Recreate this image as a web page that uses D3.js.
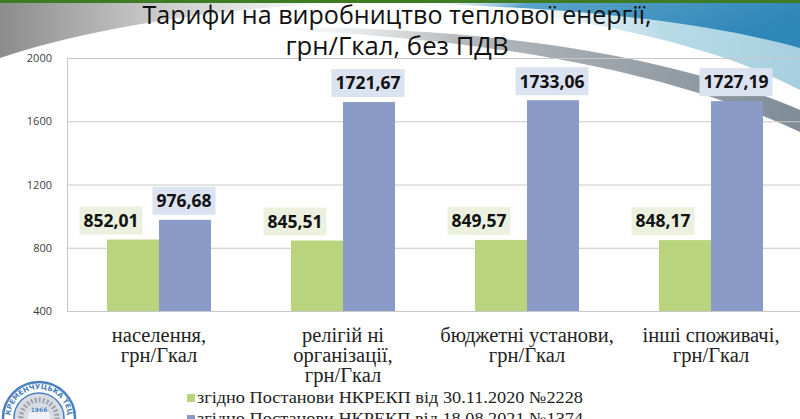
<!DOCTYPE html>
<html>
<head>
<meta charset="utf-8">
<script src="https://cdn.jsdelivr.net/npm/d3@7"></script>
<style>
  body { margin: 0; background: #fff; overflow: hidden; }
  svg { display: block; }
</style>
</head>
<body>
<script>
var w = 800;
var h = 419;

// chart data
var categories = [
  ["населення,", "грн/Гкал"],
  ["релігій ні", "організації,", "грн/Гкал"],
  ["бюджетні установи,", "грн/Гкал"],
  ["інші споживачі,", "грн/Гкал"]
];
var tariff2020 = [852.01, 845.51, 849.57, 848.17];
var tariff2021 = [976.68, 1721.67, 1733.06, 1727.19];
var seriesNames = [
  "згідно Постанови НКРЕКП від 30.11.2020 №2228",
  "згідно Постанови НКРЕКП від 18.08.2021 №1374"
];
var yTicks = [400, 800, 1200, 1600, 2000];
var titleLines = ["Тарифи на виробництво теплової енергії,", "грн/Гкал, без ПДВ"];

var colors = ["#b9d47c", "#8a9bc8"];
var labelFills = ["#ebf1de", "#dbe3f1"];

var svg = d3.select("body").append("svg")
  .attr("width", w)
  .attr("height", h);

// ---- slide decoration ----
var defs = svg.append("defs");

var gLeft = defs.append("linearGradient").attr("id", "gLeft")
  .attr("x1", 0).attr("y1", 0).attr("x2", 1).attr("y2", 0);
gLeft.append("stop").attr("offset", 0).attr("stop-color", "#8c8c8c");
gLeft.append("stop").attr("offset", 0.5).attr("stop-color", "#cfcfcf");
gLeft.append("stop").attr("offset", 1).attr("stop-color", "#ffffff");

var gBlue = defs.append("linearGradient").attr("id", "gBlue")
  .attr("x1", 0).attr("y1", 0).attr("x2", 1).attr("y2", 0.3);
gBlue.append("stop").attr("offset", 0).attr("stop-color", "#ffffff").attr("stop-opacity", 0);
gBlue.append("stop").attr("offset", 0.3).attr("stop-color", "#5aa3c8");
gBlue.append("stop").attr("offset", 1).attr("stop-color", "#2f86b8");

var gLight = defs.append("linearGradient").attr("id", "gLight")
  .attr("x1", 0).attr("y1", 0).attr("x2", 1).attr("y2", 0);
gLight.append("stop").attr("offset", 0).attr("stop-color", "#ffffff").attr("stop-opacity", 0);
gLight.append("stop").attr("offset", 0.6).attr("stop-color", "#b9dbe8");
gLight.append("stop").attr("offset", 1).attr("stop-color", "#a7cfe0");

var gGrey = defs.append("linearGradient").attr("id", "gGrey")
  .attr("x1", 0).attr("y1", 0).attr("x2", 1).attr("y2", 0);
gGrey.append("stop").attr("offset", 0).attr("stop-color", "#ffffff").attr("stop-opacity", 0);
gGrey.append("stop").attr("offset", 0.4).attr("stop-color", "#b5b9bd");
gGrey.append("stop").attr("offset", 1).attr("stop-color", "#7f8c96");

var deco = svg.append("g").attr("id", "deco");
deco.append("path")
  .attr("d", "M0,3 L340,3 C220,8 90,28 0,58 Z")
  .attr("fill", "url(#gLeft)");
deco.append("path")
  .attr("d", "M450,3 L800,3 L800,90 C720,48 610,22 450,3 Z")
  .attr("fill", "url(#gLight)");
deco.append("path")
  .attr("d", "M400,3 L800,3 L800,48 C700,20 560,7 400,3 Z")
  .attr("fill", "url(#gBlue)");
deco.append("path")
  .attr("d", "M230,28 C450,22 660,50 800,110 L800,132 C660,66 460,34 230,28 Z")
  .attr("fill", "url(#gGrey)");
deco.append("rect")
  .attr("x", 0).attr("y", 0).attr("width", w).attr("height", 3)
  .attr("fill", "#3f7a25");

// ---- plot ----
var plotLeft = 67, plotRight = 803, plotTop = 58, plotBottom = 311;

var x0 = d3.scaleBand()
  .domain(d3.range(categories.length))
  .range([plotLeft, plotRight]);

var x1 = d3.scaleBand()
  .domain([0, 1])
  .range([40, x0.bandwidth() - 40]);

var y = d3.scaleLinear()
  .domain([400, 2000])
  .range([plotBottom, plotTop]);

var yAxis = svg.append("g")
  .attr("transform", "translate(" + plotLeft + ",0)")
  .call(d3.axisLeft(y)
    .tickValues(yTicks)
    .tickSize(-(plotRight - plotLeft))
    .tickSizeOuter(0)
    .tickPadding(15)
    .tickFormat(d3.format("d")));

yAxis.select(".domain").attr("stroke", "#c8c8c8");
yAxis.selectAll(".tick line").attr("stroke", "#c8c8c8");
yAxis.selectAll(".tick text")
  .attr("font-family", "'Open Sans', sans-serif")
  .attr("font-size", 11)
  .attr("fill", "#404040");

var series = [tariff2020, tariff2021];
var fmt = function(v) { return v.toFixed(2).replace(".", ","); };

var bars = [];
series.forEach(function(vals, s) {
  vals.forEach(function(v, i) {
    bars.push({ s: s, i: i, v: v });
  });
});

svg.append("g").attr("id", "bars")
  .selectAll("rect")
  .data(bars)
  .enter().append("rect")
  .attr("x", function(d) { return x0(d.i) + x1(d.s); })
  .attr("y", function(d) { return y(d.v); })
  .attr("width", x1.bandwidth())
  .attr("height", function(d) { return y(400) - y(d.v); })
  .attr("fill", function(d) { return colors[d.s]; });

// data labels, green ones sit a bit to the left like in the slide
var labels = svg.append("g").attr("id", "labels")
  .selectAll("g")
  .data(bars)
  .enter().append("g")
  .attr("transform", function(d) {
    var cx = x0(d.i) + x1(d.s) + x1.bandwidth() / 2 + (d.s === 0 ? -22 : -1);
    return "translate(" + cx + "," + (y(d.v) - 19) + ")";
  });

labels.append("text")
  .attr("text-anchor", "middle")
  .attr("dy", "0.36em")
  .attr("font-family", "'Open Sans', sans-serif")
  .attr("font-weight", "bold")
  .attr("font-size", 17.5)
  .attr("fill", "#111")
  .text(function(d) { return fmt(d.v); });

labels.each(function() {
  var g = d3.select(this);
  var bb = g.select("text").node().getBBox();
  g.insert("rect", "text")
    .attr("x", bb.x - 4)
    .attr("y", -14)
    .attr("width", bb.width + 8)
    .attr("height", 28)
    .attr("fill", function(d) { return labelFills[d.s]; });
});

// category labels
var cats = svg.append("g").attr("id", "cats")
  .selectAll("text")
  .data(categories)
  .enter().append("text")
  .attr("text-anchor", "middle")
  .attr("font-family", "'Liberation Serif', 'Times New Roman', serif")
  .attr("font-size", 20.5)
  .attr("fill", "#222");

cats.selectAll("tspan")
  .data(function(d, i) { return d.map(function(t) { return { t: t, i: i }; }); })
  .enter().append("tspan")
  .attr("x", function(d) { return x0(d.i) + x0.bandwidth() / 2; })
  .attr("y", function(d, j) { return 342 + j * 20; })
  .text(function(d) { return d.t; });

// legend
var legend = svg.append("g").attr("id", "legend")
  .selectAll("g")
  .data(seriesNames)
  .enter().append("g")
  .attr("transform", function(d, i) { return "translate(187," + (403 + i * 21) + ")"; });

legend.append("rect")
  .attr("x", 0).attr("y", -9)
  .attr("width", 8).attr("height", 8)
  .attr("fill", function(d, i) { return colors[i]; });

legend.append("text")
  .attr("x", 10)
  .attr("font-family", "'Liberation Serif', 'Times New Roman', serif")
  .attr("font-size", 17)
  .attr("fill", "#222")
  .attr("textLength", 386)
  .attr("lengthAdjust", "spacingAndGlyphs")
  .text(function(d) { return d; });

// title
svg.append("g").attr("id", "title")
  .selectAll("text")
  .data(titleLines)
  .enter().append("text")
  .attr("x", 397)
  .attr("y", function(d, i) { return 24 + i * 31; })
  .attr("text-anchor", "middle")
  .attr("font-family", "'Open Sans', sans-serif")
  .attr("font-size", 25)
  .attr("fill", "#111")
  .attr("textLength", function(d, i) { return i === 0 ? 509 : 223; })
  .attr("lengthAdjust", "spacingAndGlyphs")
  .text(function(d) { return d; });

// logo in the bottom left corner
var logo = svg.append("g").attr("id", "logo").attr("transform", "translate(39,418)");
logo.append("circle").attr("r", 36).attr("fill", "#ffffff").attr("stroke", "#4a80c0").attr("stroke-width", 2.5);
logo.append("circle").attr("r", 25).attr("fill", "#d9dde2").attr("stroke", "#4a80c0").attr("stroke-width", 1.5);
logo.append("circle").attr("r", 18).attr("fill", "none").attr("stroke", "#9aa3ad").attr("stroke-width", 5).attr("stroke-dasharray", "2,2");
logo.append("circle").attr("r", 11).attr("fill", "#eef1f5");
defs.append("path").attr("id", "logoArc").attr("d", "M-29,0 A29,29 0 0,1 29,0");
logo.append("text")
  .attr("font-family", "'DejaVu Sans', sans-serif")
  .attr("font-size", 7)
  .attr("font-weight", "bold")
  .attr("fill", "#4a80c0")
  .append("textPath")
  .attr("href", "#logoArc")
  .attr("startOffset", "50%")
  .attr("text-anchor", "middle")
  .text("КРЕМЕНЧУЦЬКА ТЕЦ");
logo.append("text")
  .attr("y", -6)
  .attr("text-anchor", "middle")
  .attr("font-family", "'DejaVu Sans', sans-serif")
  .attr("font-size", 6)
  .attr("font-weight", "bold")
  .attr("fill", "#4a80c0")
  .text("1966");
</script>
</body>
</html>
